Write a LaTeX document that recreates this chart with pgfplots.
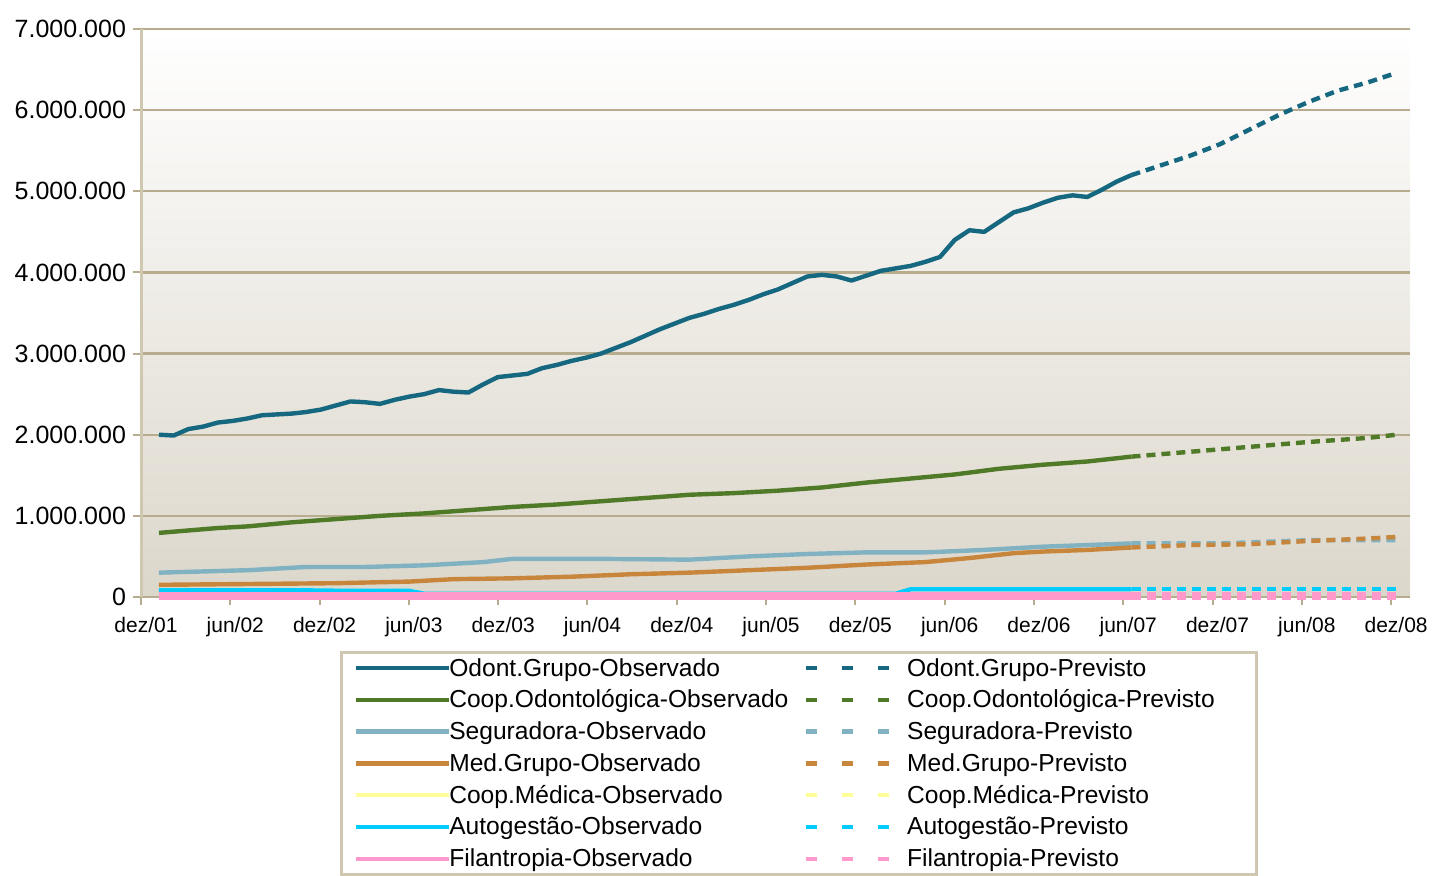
\documentclass[border=0pt]{standalone}
\usepackage{fontspec}
\setmainfont{Liberation Sans}
\usepackage{pgfplots}
\pgfplotsset{compat=1.18}
\definecolor{odont}{RGB}{21,104,128}
\definecolor{coopod}{RGB}{79,122,40}
\definecolor{segur}{RGB}{128,178,194}
\definecolor{medgr}{RGB}{200,134,60}
\definecolor{coopmed}{RGB}{255,255,153}
\definecolor{autog}{RGB}{0,204,255}
\definecolor{filan}{RGB}{255,153,204}
\definecolor{gridc}{RGB}{184,172,142}
\definecolor{axc}{RGB}{208,199,176}
\definecolor{bgbot}{RGB}{220,215,203}
\pgfplotsset{
  obs/.style={line width=2.2pt, line join=round,
    legend image code/.code={\path (0pt,0pt) (44.5pt,0pt);
      \pgfinterruptboundingbox\draw[##1, line width=2.2pt] (0pt,0pt) -- (46.5pt,0pt);\endpgfinterruptboundingbox}},
  prev/.style={line width=2.2pt, dash pattern=on 4.5pt off 3pt,
    legend image code/.code={\path (0pt,0pt) (50pt,0pt);
      \pgfinterruptboundingbox\draw[##1, line width=2.2pt, dash pattern=on 5.5pt off 12.5pt] (1.5pt,0pt) -- (46pt,0pt);\endpgfinterruptboundingbox}},
}
\begin{document}
\begin{tikzpicture}
\begin{axis}[
  at={(70.5pt,139.5pt)}, anchor=south west,
  scale only axis, width=634.5pt, height=284pt,
  xmin=-1.22, xmax=84.9, ymin=0, ymax=7000000,
  clip=false,
  axis lines*=left,
  axis line style={draw=axc, line width=1.5pt},
  x axis line style={draw=none},
  axis background/.style={top color=white, bottom color=bgbot},
  ymajorgrids, grid style={draw=gridc, line width=1.2pt},
  ytick={0,1000000,2000000,3000000,4000000,5000000,6000000,7000000},
  scaled y ticks=false,
  /pgf/number format/fixed,
  /pgf/number format/precision=0,
  /pgf/number format/1000 sep={.},
  /pgf/number format/assume math mode=true,
  xtick={-1.22,4.84,10.9,16.96,23.02,29.08,35.14,41.2,47.26,53.32,59.38,65.44,71.5,77.56,83.62},
  xticklabels={dez/01,jun/02,dez/02,jun/03,dez/03,jun/04,dez/04,jun/05,dez/05,jun/06,dez/06,jun/07,dez/07,jun/08,dez/08},
  tick align=outside, major tick length=4pt,
  tick style={draw=gridc, line width=1pt},
  y tick label style={font=\fontsize{12.5}{14}\selectfont},
  x tick label style={font=\fontsize{10.5}{12}\selectfont, yshift=-2.5pt, xshift=2.5pt},
  legend columns=2,
  legend cell align=left,
  legend style={at={(0.15682,-0.09507)}, anchor=north west,
    draw=axc, line width=1.5pt, fill=white,
    font=\fontsize{12.3}{14}\selectfont,
    inner xsep=5pt, inner ysep=2.25pt,
    column sep=0pt, row sep=4.9pt,
    nodes={inner sep=0pt},
    /tikz/every even column/.append style={text height=9.5pt, text depth=2pt},
    /tikz/column 2/.append style={text width=174.5pt},
    /tikz/column 4/.append style={text width=169.5pt}},
]
% Odont. Grupo
\addplot[obs, odont] coordinates {
(0,2000000)(1,1990000)(2,2070000)(3,2100000)(4,2150000)(5,2170000)(6,2200000)(7,2240000)(8,2250000)(9,2260000)
(10,2280000)(11,2310000)(12,2360000)(13,2410000)(14,2400000)(15,2380000)(16,2430000)(17,2470000)(18,2500000)(19,2550000)
(20,2530000)(21,2520000)(22,2620000)(23,2710000)(24,2730000)(25,2750000)(26,2820000)(27,2860000)(28,2910000)(29,2950000)
(30,3000000)(31,3070000)(32,3140000)(33,3220000)(34,3300000)(35,3370000)(36,3440000)(37,3490000)(38,3550000)(39,3600000)
(40,3660000)(41,3730000)(42,3790000)(43,3870000)(44,3950000)(45,3970000)(46,3950000)(47,3900000)(48,3960000)(49,4020000)
(50,4050000)(51,4080000)(52,4130000)(53,4190000)(54,4400000)(55,4520000)(56,4500000)(57,4620000)(58,4740000)(59,4790000)
(60,4860000)(61,4920000)(62,4950000)(63,4930000)(64,5020000)(65,5120000)(66,5200000)};
\addlegendentry{Odont.Grupo-Observado}
\addplot[prev, odont] coordinates {
(66,5200000)(68,5320000)(70,5440000)(72,5580000)(74,5760000)(76,5940000)(78,6100000)(80,6240000)(82,6340000)(84,6460000)};
\addlegendentry{Odont.Grupo-Previsto}
% Coop. Odontologica
\addplot[obs, coopod] coordinates {
(0,790000)(2,820000)(4,850000)(6,870000)(9,920000)(12,960000)(15,1000000)(18,1030000)(21,1070000)(24,1110000)
(27,1140000)(30,1180000)(33,1220000)(36,1260000)(39,1280000)(42,1310000)(45,1350000)(48,1410000)(51,1460000)(54,1510000)
(57,1580000)(60,1630000)(63,1670000)(66,1730000)};
\addlegendentry{Coop.Odontológica-Observado}
\addplot[prev, coopod] coordinates {
(66,1730000)(70,1790000)(74,1850000)(78,1910000)(82,1960000)(84,2000000)};
\addlegendentry{Coop.Odontológica-Previsto}
% Seguradora
\addplot[obs, segur] coordinates {
(0,300000)(6,330000)(10,370000)(14,370000)(18,390000)(22,430000)(24,470000)(30,470000)(36,460000)(40,500000)
(44,530000)(48,550000)(52,550000)(56,580000)(60,620000)(63,640000)(66,660000)};
\addlegendentry{Seguradora-Observado}
\addplot[prev, segur] coordinates {
(66,660000)(72,660000)(78,700000)(84,700000)};
\addlegendentry{Seguradora-Previsto}
% Med. Grupo
\addplot[obs, medgr] coordinates {
(0,150000)(6,160000)(12,170000)(17,190000)(20,220000)(24,230000)(28,250000)(32,280000)(36,300000)(40,330000)
(44,360000)(48,400000)(52,430000)(55,480000)(58,540000)(60,560000)(63,580000)(66,610000)};
\addlegendentry{Med.Grupo-Observado}
\addplot[prev, medgr] coordinates {
(66,610000)(70,640000)(74,650000)(78,690000)(82,720000)(84,740000)};
\addlegendentry{Med.Grupo-Previsto}
% Coop. Medica
\addplot[obs, coopmed] coordinates {(0,10000)(66,10000)};
\addlegendentry{Coop.Médica-Observado}
\addplot[prev, coopmed] coordinates {(66,10000)(84,10000)};
\addlegendentry{Coop.Médica-Previsto}
% Autogestao
\addplot[obs, autog] coordinates {
(0,83000)(10,83000)(11,78000)(17,75000)(18,40000)(50,40000)(51,95000)(66,95000)};
\addlegendentry{Autogestão-Observado}
\addplot[prev, autog] coordinates {(66,95000)(84,95000)};
\addlegendentry{Autogestão-Previsto}
% Filantropia
\addplot[obs, filan, line width=4.4pt] coordinates {(0,12000)(66,12000)};
\addlegendentry{Filantropia-Observado}
\addplot[prev, filan, line width=4.4pt] coordinates {(66,12000)(84,12000)};
\addlegendentry{Filantropia-Previsto}
\end{axis}
\pgfresetboundingbox
\path[use as bounding box] (0pt,0pt) rectangle (716.5pt,438pt);
\end{tikzpicture}
\end{document}
